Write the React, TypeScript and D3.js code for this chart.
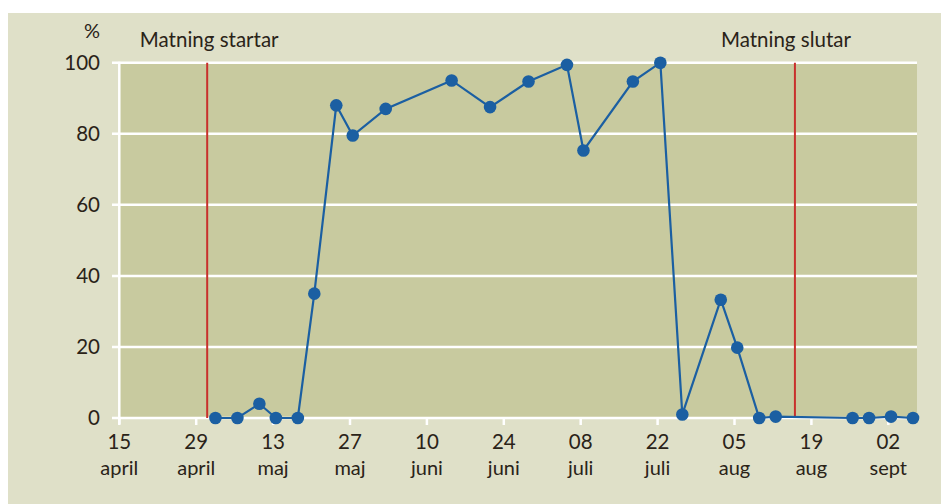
import React from 'react';
import * as d3 from 'd3';

// mätningar (datum, procent)
const dates = [
  '2023-05-02', '2023-05-06', '2023-05-10', '2023-05-13', '2023-05-17', '2023-05-20',
  '2023-05-24', '2023-05-27', '2023-06-02', '2023-06-14', '2023-06-21', '2023-06-28',
  '2023-07-05', '2023-07-08', '2023-07-17', '2023-07-22', '2023-07-26', '2023-08-02',
  '2023-08-05', '2023-08-09', '2023-08-12', '2023-08-26', '2023-08-29', '2023-09-02',
  '2023-09-06',
];
const values = [
  0, 0, 4, 0, 0, 35,
  88, 79.5, 87, 95, 87.5, 94.7,
  99.4, 75.3, 94.7, 100, 1, 33.3,
  19.8, 0, 0.4, 0, 0, 0.4,
  0,
];

const tickDates = [
  '2023-04-15', '2023-04-29', '2023-05-13', '2023-05-27', '2023-06-10', '2023-06-24',
  '2023-07-08', '2023-07-22', '2023-08-05', '2023-08-19', '2023-09-02',
];
const tickDays = ['15', '29', '13', '27', '10', '24', '08', '22', '05', '19', '02'];
const tickMonths = ['april', 'april', 'maj', 'maj', 'juni', 'juni', 'juli', 'juli', 'aug', 'aug', 'sept'];

const yTicks = [0, 20, 40, 60, 80, 100];

const markerDates = ['2023-05-01', '2023-08-16'];
const markerLabels = ['Matning startar', 'Matning slutar'];

const parse = d3.timeParse('%Y-%m-%d');

const App = () => {
  const width = 941;
  const height = 504;
  const left = 119.3;
  const right = 917;
  const top = 62.7;
  const bottom = 418;

  const x = d3.scaleTime()
    .domain([parse('2023-04-15'), parse('2023-09-02')])
    .range([left, 888.3]);
  const y = d3.scaleLinear().domain([0, 100]).range([bottom, top]);

  // punkterna sitter mitt på dagen
  const points = dates.map((d, i) => ({ date: d3.timeHour.offset(parse(d), 12), value: values[i] }));

  const line = d3.line<{ date: Date; value: number }>()
    .x(d => x(d.date))
    .y(d => y(d.value));

  const font = 'Lato, "Open Sans", sans-serif';
  const textColor = '#2a2318';
  const labelShift = [2, -9];

  return (
    <svg width={width} height={height} style={{ position: 'absolute', left: 0, top: 0 }}>
      <rect x={0} y={0} width={width} height={height} fill="#ffffff" />
      <rect x={8} y={13} width={width - 8} height={height - 13} fill="#dfe0c8" />
      <rect x={left} y={top} width={right - left} height={bottom - top} fill="#c8ca9f" />

      {yTicks.map(t => (
        <g key={t}>
          <line x1={112} x2={right} y1={y(t)} y2={y(t)} stroke="#fff" strokeWidth={2.5} />
          <text x={100} y={y(t)} dy="0.36em" textAnchor="end" fontFamily={font} fontSize={20.5} fill={textColor}>
            {t}
          </text>
        </g>
      ))}
      <line x1={left} x2={left} y1={top - 1} y2={bottom + 6} stroke="#fff" strokeWidth={2.5} />
      <text x={100} y={38} textAnchor="end" fontFamily={font} fontSize={20} fill={textColor}>%</text>

      {tickDates.map((d, i) => {
        const tx = x(parse(d));
        return (
          <g key={d}>
            <line x1={tx} x2={tx} y1={bottom} y2={bottom + 7} stroke="#fff" strokeWidth={2.5} />
            <text x={tx} y={449} textAnchor="middle" fontFamily={font} fontSize={20.5} fill={textColor}>
              {tickDays[i]}
            </text>
            <text x={tx} y={475} textAnchor="middle" fontFamily={font} fontSize={20} fill={textColor}>
              {tickMonths[i]}
            </text>
          </g>
        );
      })}

      {markerDates.map((d, i) => {
        const mx = x(parse(d));
        return (
          <g key={d}>
            <line x1={mx} x2={mx} y1={top} y2={bottom} stroke="#c8302c" strokeWidth={2} />
            <text x={mx + labelShift[i]} y={47} textAnchor="middle" fontFamily={font} fontSize={20.5} fill={textColor}>
              {markerLabels[i]}
            </text>
          </g>
        );
      })}

      <path d={line(points) || ''} fill="none" stroke="#1b5fa2" strokeWidth={2.2} />
      {points.map((p, i) => (
        <circle key={i} cx={x(p.date)} cy={y(p.value)} r={6.3} fill="#1b5fa2" />
      ))}
    </svg>
  );
};

export default App;
